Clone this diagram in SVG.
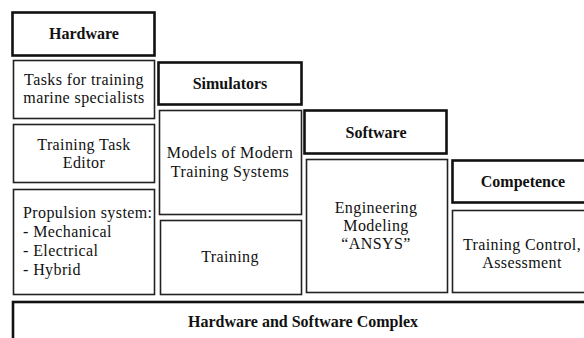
<svg xmlns="http://www.w3.org/2000/svg" width="584" height="338" viewBox="0 0 584 338">
<style>
.thick{fill:#fff;stroke:#111;stroke-width:2.6}
.thin{fill:#fff;stroke:#222;stroke-width:1.6}
text{font-family:"Liberation Serif","Times New Roman",serif;fill:#111}
.h{font-weight:bold;font-size:16px;text-anchor:middle}
.b{font-size:16px;letter-spacing:0.4px;text-anchor:middle}
.l{font-size:16px;letter-spacing:0.4px}
</style>
<rect width="584" height="338" fill="#fff"/>
<g id="hardware"><rect class="thick" x="12.5" y="12.5" width="142" height="43"/><text class="h" x="84" y="39">Hardware</text></g>
<g id="tasks"><rect class="thin" x="13.5" y="60.5" width="141" height="58"/><text class="b" x="84" y="85">Tasks for training</text><text class="b" x="84" y="103">marine specialists</text></g>
<g id="editor"><rect class="thin" x="13.5" y="124.5" width="141" height="58"/><text class="b" x="84" y="150">Training Task</text><text class="b" x="84" y="168">Editor</text></g>
<g id="propulsion"><rect class="thin" x="13.5" y="189.5" width="141" height="105"/><text class="l" x="23" y="218">Propulsion system:</text><text class="l" x="23" y="237">- Mechanical</text><text class="l" x="23" y="256">- Electrical</text><text class="l" x="23" y="275">- Hybrid</text></g>
<g id="simulators"><rect class="thick" x="158.5" y="62.5" width="143" height="42"/><text class="h" x="230" y="89">Simulators</text></g>
<g id="models"><rect class="thin" x="159.5" y="110.5" width="142" height="104"/><text class="b" x="230" y="158">Models of Modern</text><text class="b" x="230" y="177">Training Systems</text></g>
<g id="training"><rect class="thin" x="160.5" y="220.5" width="141" height="74"/><text class="b" x="230" y="262">Training</text></g>
<g id="software"><rect class="thick" x="304.5" y="110.5" width="142" height="43"/><text class="h" x="376" y="138">Software</text></g>
<g id="engineering"><rect class="thin" x="306.5" y="159.5" width="141" height="133"/><text class="b" x="376" y="213">Engineering</text><text class="b" x="376" y="231">Modeling</text><text class="b" x="376" y="249">“ANSYS”</text></g>
<g id="competence"><rect class="thick" x="452.5" y="160.5" width="142" height="42"/><text class="h" x="523" y="187">Competence</text></g>
<g id="control"><rect class="thin" x="452.5" y="210.5" width="142" height="82"/><text class="b" x="522" y="250">Training Control,</text><text class="b" x="522" y="268">Assessment</text></g>
<g id="complex"><rect class="thick" x="13" y="302" width="590" height="60"/><text class="h" x="303" y="327">Hardware and Software Complex</text></g>
<g id="connectors"></g>
</svg>
